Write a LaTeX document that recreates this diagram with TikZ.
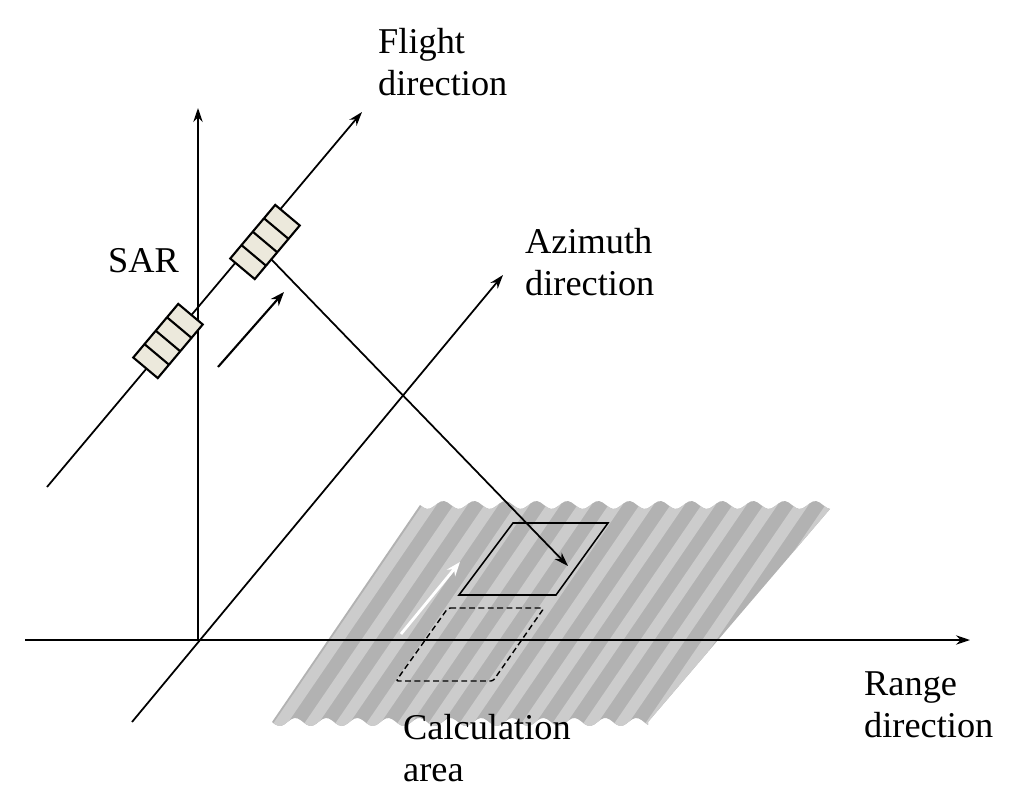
\documentclass[tikz,border=0pt]{standalone}
\usepackage{fontspec}
\setmainfont{Liberation Serif}
\usetikzlibrary{arrows.meta}
\definecolor{ant}{RGB}{236,233,220}
\begin{document}
\begin{tikzpicture}[x=0.03cm,y=-0.03cm,
  ax/.style={line width=1.5pt,-{Stealth[length=12pt,width=8pt]}},
  lbl/.style={font=\fontsize{31}{36}\selectfont,align=left,anchor=north west,inner sep=0pt},
  antenna/.style={fill=ant,draw=black,line width=1.8pt}]
\useasboundingbox (0,0) rectangle (1024,812);
% surface
\begin{scope}
\clip plot[domain=0:410,samples=120] ({420+\x},{505+4*sin(\x/31*360)})
  -- (648,722) -- plot[domain=376:0,samples=120] ({272+\x},{722+4*sin(\x/31*360)}) -- cycle;
\fill[gray!60] (200,480) rectangle (900,740);
\foreach \i in {0,...,24}{
  \fill[gray!40] ({200+\i*31},740) -- ({214+\i*31},740) -- ({214+\i*31+181},475) -- ({200+\i*31+181},475) -- cycle;
}
\end{scope}
% axes
\coordinate (o) at (198,640);
\coordinate (vtop) at (198,108);
\coordinate (hl) at (25,640);
\coordinate (hr) at (970,640);
\coordinate (az0) at (132,722);
\coordinate (az1) at (503,275);
\coordinate (f0) at (47,487);
\coordinate (f1) at (362,112);
\draw[ax] (o) -- (vtop);
\draw[ax] (hl) -- (hr);
\draw[ax] (az0) -- (az1);
\draw[ax] (f0) -- (f1);
% footprint areas
\draw[line width=1.3pt] (513,523) -- (608,523) -- (556,595) -- (459,595) -- cycle;
\draw[line width=1.2pt,dash pattern=on 5pt off 3pt,rounded corners=2pt] (448,608) -- (544,608) -- (493,681) -- (396,681) -- cycle;
% white arrow
\coordinate (w0) at (401,634); \coordinate (w1) at (460,562);
\draw[white,line width=2.4pt,-{Stealth[length=12pt,width=9pt]}] (w0) -- (w1);
% slant range
\coordinate (s0) at (270,258); \coordinate (s1) at (568,566);
\draw[ax] (s0) -- (s1);
% antennas
\foreach \cx/\cy in {168/341,265/242}{
\begin{scope}[shift={(\cx,\cy)},rotate=50]
 \draw[antenna] (-35,-16) rectangle (35,16);
 \draw[line width=1.8pt] (-17.5,-16) -- (-17.5,16) (0,-16) -- (0,16) (17.5,-16) -- (17.5,16);
\end{scope}}
% motion arrow
\coordinate (m0) at (218,367); \coordinate (m1) at (284,292);
\draw[line width=1.8pt,-{Stealth[length=12pt,width=9pt]}] (m0) -- (m1);
% labels
\node[lbl] (fl) at (378,28) {Flight\\direction};
\node[lbl] (az) at (525,228) {Azimuth\\direction};
\node[lbl] (sar) at (108,248) {SAR};
\node[lbl] (rg) at (864,671) {Range\\direction};
\node[lbl] (ca) at (403,714) {Calculation\\area};
\end{tikzpicture}
\end{document}
